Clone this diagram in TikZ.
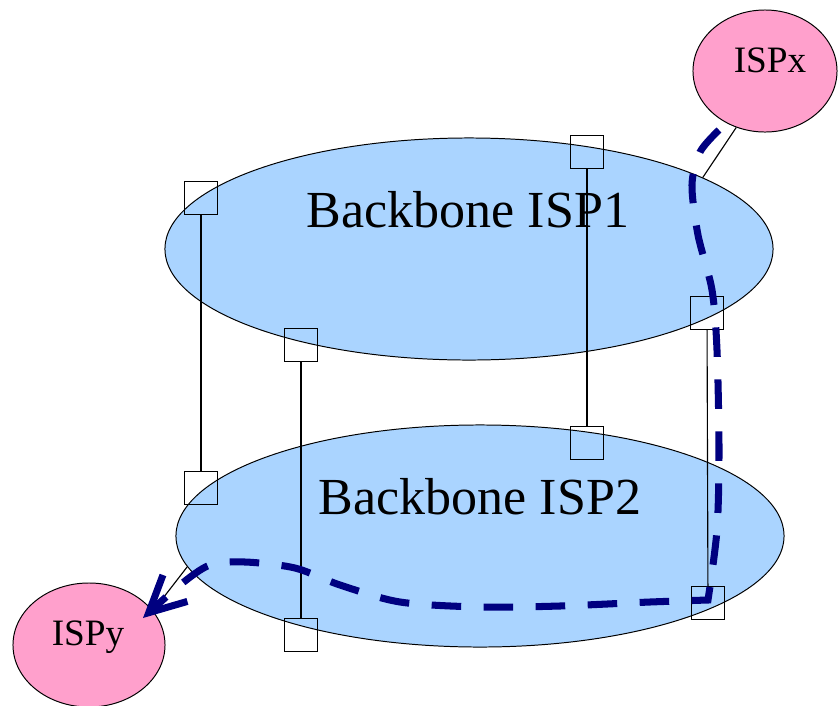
\documentclass[tikz,border=0pt]{standalone}
\usepackage{fontspec}
\setmainfont{Liberation Serif}
\usetikzlibrary{shapes.geometric,arrows.meta}
\definecolor{bbblue}{RGB}{170,212,255}
\definecolor{isppink}{RGB}{255,160,204}
\definecolor{routeblue}{RGB}{0,0,128}
\tikzset{bb/.style={ellipse,draw,fill=bbblue,minimum width=15.2cm,minimum height=5.55cm,inner sep=0pt,line width=0.7pt}}
\tikzset{isp/.style={ellipse,draw,fill=isppink,inner sep=0pt,line width=0.7pt}}
\tikzset{pop/.style={rectangle,draw,minimum size=8.2mm,inner sep=0pt,line width=0.8pt}}
\tikzset{big/.style={anchor=base,inner sep=0pt,font=\fontsize{37}{44}\selectfont}}
\tikzset{small/.style={anchor=base,inner sep=0pt,font=\fontsize{26.5}{32}\selectfont}}
\tikzset{route/.style={draw=routeblue,line width=5pt,dash pattern=on 21pt off 16pt,-{Straight Barb[length=9mm,width=9mm]}}}

\begin{document}
\begin{tikzpicture}[x=0.025cm,y=-0.025cm]
      \useasboundingbox (0,0) rectangle (838,706);
      \node[bb] (isp2) at (480,536) {};
      \node[bb] (isp1) at (469,249) {};
      \node[isp,minimum width=3.6cm,minimum height=3.05cm] (ispx) at (765,71) {};
      \node[isp,minimum width=3.8cm,minimum height=3.1cm] (ispy) at (89,645) {};
      \node[big] (isp1txt) at (468,227) {Backbone ISP1};
      \node[big] (isp2txt) at (480,514) {Backbone ISP2};
      \node[small] (ispxtxt) at (770,72) {ISPx};
      \node[small] (ispytxt) at (88,645) {ISPy};
      % points of presence
      \node[pop] (a1) at (201,198) {};
      \node[pop] (b1) at (587,152) {};
      \node[pop] (c1) at (301,345) {};
      \node[pop] (d1) at (707,313) {};
      \node[pop] (a2) at (201,488) {};
      \node[pop] (b2) at (587,443) {};
      \node[pop] (c2) at (301,635) {};
      \node[pop] (d2) at (708,603) {};
        \draw[line width=0.8pt] (a1) -- (a2);
        \draw[line width=0.8pt] (b1) -- (b2);
        \draw[line width=0.8pt] (c1) -- (c2);
        \draw[line width=0.8pt] (d1) -- (d2);
        \draw[line width=0.8pt] (ispx.243) -- (isp1.17);
        \draw[line width=0.8pt] (isp2.186) -- (ispy.28);
        \draw[route] plot[smooth] coordinates {(719,130) (700,152) (692,185) (698,235) (712,290) (717,350) (719,450) (717,530) (708,600)}
          -- plot[smooth] coordinates {(708,600) (650,602) (560,606) (480,607) (400,602) (340,585) (295,568) (245,562) (210,565) (180,585) (143,618)};
    \end{tikzpicture}
\end{document}
